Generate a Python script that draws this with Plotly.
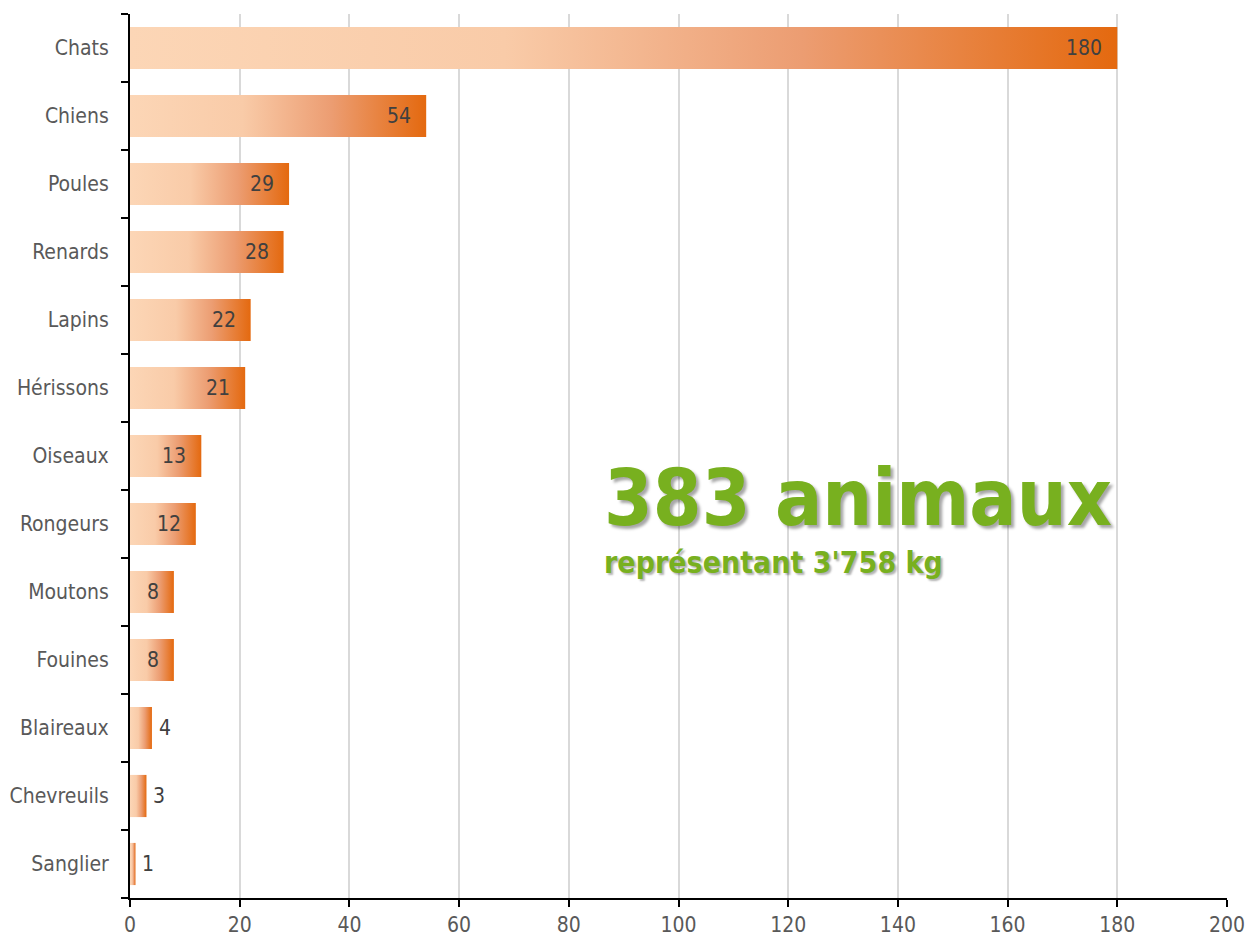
import plotly.graph_objects as go

categories = ["Chats", "Chiens", "Poules", "Renards", "Lapins", "Hérissons", "Oiseaux",
              "Rongeurs", "Moutons", "Fouines", "Blaireaux", "Chevreuils", "Sanglier"]
values = [180, 54, 29, 28, 22, 21, 13, 12, 8, 8, 4, 3, 1]
x_ticks = [0, 20, 40, 60, 80, 100, 120, 140, 160, 180, 200]
total_label = "383 animaux"
sub_label = "représentant 3'758 kg"

FONT = "DejaVu Sans Condensed, sans-serif"
n = len(categories)
half = 0.31
scale = [[0, "#fcd6b6"], [0.38, "#f9cba8"], [0.68, "#ec9d72"], [1, "#e4690f"]]

fig = go.Figure()
for i, (cat, v) in enumerate(zip(categories, values)):
    yc = n - 1 - i
    fig.add_trace(go.Scatter(
        x=[0, v, v, 0, 0],
        y=[yc - half, yc - half, yc + half, yc + half, yc - half],
        mode="lines", line=dict(width=0), fill="toself",
        fillgradient=dict(type="horizontal", colorscale=scale),
        hoverinfo="skip", showlegend=False))

annotations = []
for i, v in enumerate(values):
    yc = n - 1 - i
    inside = v >= 8
    annotations.append(dict(
        x=v, y=yc, xref="x", yref="y", text=str(v), showarrow=False,
        xanchor="right" if inside else "left", xshift=-13 if inside else 5,
        font=dict(family=FONT, size=21, color="#404040")))

GREEN = "#78b01f"
SHADOW = "3px 3px 3px rgba(0,0,0,0.35)"
annotations.append(dict(x=0.43, y=0.399, xref="paper", yref="paper",
                        text="<b>" + total_label + "</b>",
                        showarrow=False, xanchor="left", yanchor="bottom",
                        font=dict(family=FONT, size=78, color=GREEN, shadow=SHADOW)))
annotations.append(dict(x=0.43, y=0.357, xref="paper", yref="paper",
                        text="<b>" + sub_label + "</b>",
                        showarrow=False, xanchor="left", yanchor="bottom",
                        font=dict(family=FONT, size=30, color=GREEN,
                                  shadow="2px 2px 2px rgba(0,0,0,0.3)")))

fig.update_layout(
    width=1248, height=933,
    margin=dict(l=122, r=29, t=6, b=43),
    paper_bgcolor="white", plot_bgcolor="white",
    font=dict(family=FONT, size=21, color="#595959"),
    annotations=annotations,
    shapes=[dict(type="rect", xref="paper", yref="paper", x0=0.415, x1=0.889,
                 y0=0.34, y1=0.521, fillcolor="white", line=dict(width=0), layer="between")],
    xaxis=dict(range=[0, 200], tickvals=x_ticks, showgrid=True, gridcolor="#d9d9d9",
               gridwidth=2, showline=True, linecolor="black", linewidth=2,
               ticks="outside", ticklen=7, tickwidth=2, tickcolor="black",
               zeroline=False, automargin=False, tickfont=dict(size=21, color="#595959")),
    yaxis=dict(range=[-0.5, n - 0.5], tickvals=list(range(n)),
               ticktext=list(reversed(categories)), showgrid=False,
               showline=True, linecolor="black", linewidth=2,
               ticks="outside", ticklen=15, tickcolor="rgba(0,0,0,0)",
               minor=dict(tickvals=[k - 0.5 for k in range(n + 1)], ticks="outside",
                          ticklen=7, tickwidth=2, tickcolor="black", showgrid=False),
               zeroline=False, automargin=False, tickfont=dict(size=21, color="#595959")),
)

fig.write_html("out.html")
